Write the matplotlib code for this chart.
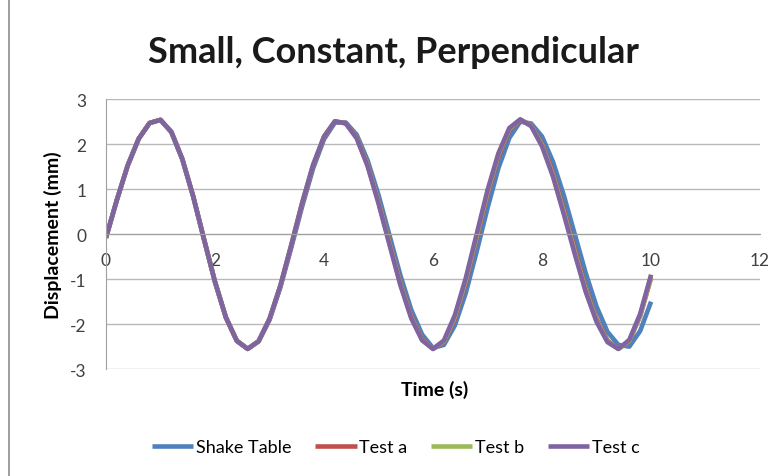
import matplotlib
matplotlib.use("Agg")
import matplotlib.pyplot as plt
from matplotlib.lines import Line2D

# time samples (s)
time_s = [round(0.2 * i, 1) for i in range(51)]

# displacement (mm) for each record
shake_table = [-0.08, 0.76, 1.53, 2.12, 2.47, 2.54, 2.27, 1.67, 0.84, -0.12,
               -1.06, -1.85, -2.37, -2.55, -2.38, -1.91, -1.18, -0.30, 0.62, 1.46,
               2.11, 2.48, 2.48, 2.21, 1.64, 0.87, -0.02, -0.91, -1.68, -2.23,
               -2.53, -2.46, -2.03, -1.31, -0.39, 0.58, 1.47, 2.14, 2.50, 2.46,
               2.17, 1.61, 0.86, 0.00, -0.86, -1.61, -2.17, -2.46, -2.50, -2.15,
               -1.50]
test_a = [-0.08, 0.76, 1.53, 2.12, 2.47, 2.54, 2.27, 1.67, 0.84, -0.12,
          -1.06, -1.85, -2.37, -2.55, -2.38, -1.89, -1.15, -0.25, 0.68, 1.52,
          2.15, 2.50, 2.47, 2.15, 1.55, 0.73, -0.17, -1.07, -1.82, -2.33,
          -2.55, -2.40, -1.88, -1.08, -0.10, 0.88, 1.72, 2.31, 2.54, 2.42,
          2.01, 1.37, 0.55, -0.32, -1.18, -1.88, -2.36, -2.55, -2.38, -1.82,
          -0.97]
test_b = [-0.08, 0.76, 1.53, 2.12, 2.47, 2.54, 2.27, 1.67, 0.84, -0.12,
          -1.06, -1.85, -2.37, -2.55, -2.38, -1.88, -1.14, -0.24, 0.70, 1.54,
          2.17, 2.51, 2.46, 2.14, 1.53, 0.71, -0.20, -1.10, -1.85, -2.35,
          -2.55, -2.38, -1.84, -1.03, -0.05, 0.93, 1.77, 2.34, 2.55, 2.41,
          1.98, 1.32, 0.49, -0.39, -1.24, -1.92, -2.38, -2.55, -2.37, -1.80,
          -0.95]
test_c = [-0.08, 0.76, 1.53, 2.12, 2.47, 2.54, 2.27, 1.67, 0.84, -0.12,
          -1.06, -1.85, -2.37, -2.55, -2.38, -1.88, -1.14, -0.24, 0.70, 1.54,
          2.17, 2.51, 2.46, 2.13, 1.51, 0.68, -0.23, -1.13, -1.87, -2.36,
          -2.55, -2.36, -1.80, -0.98, 0.00, 0.98, 1.80, 2.36, 2.55, 2.40,
          1.95, 1.28, 0.44, -0.44, -1.28, -1.95, -2.40, -2.55, -2.35, -1.77,
          -0.90]

series_names = ["Shake Table", "Test a", "Test b", "Test c"]
series_colors = ["#4F81BD", "#C0504D", "#9BBB59", "#8064A2"]

plt.rcParams['font.family'] = ['Lato', 'DejaVu Sans']
plt.rcParams['axes.unicode_minus'] = False

fig = plt.figure(figsize=(7.82, 4.77), dpi=100)
ax = fig.add_axes([0.1355, 0.224, 0.8365, 0.566])

for vals, name, col in zip([shake_table, test_a, test_b, test_c], series_names, series_colors):
    ax.plot(time_s, vals, color=col, lw=3.3, label=name,
            solid_joinstyle='round', solid_capstyle='butt')

ax.set_xlim(0, 12)
ax.set_ylim(-3, 3)
ax.set_xticks(range(0, 13, 2))
ax.set_yticks(range(-3, 4))

# horizontal gridlines, axis crossing at y = 0
ax.grid(axis='y', color='#B8B8B8', lw=1)
ax.set_axisbelow(True)
ax.spines['top'].set_visible(False)
ax.spines['right'].set_visible(False)
ax.spines['bottom'].set_position(('data', 0))
ax.spines['bottom'].set_color('#A0A0A0')
ax.spines['left'].set_color('#A0A0A0')
ax.tick_params(axis='both', length=0, labelsize=12.5, labelcolor='#404040')
ax.tick_params(axis='x', pad=13)
ax.tick_params(axis='y', pad=14)

fig.text(393 / 782, 1 - 63 / 477, "Small, Constant, Perpendicular", fontsize=26,
         fontweight='bold', ha='center', va='baseline', color='#1a1a1a')
ax.set_ylabel("Displacement (mm)", fontsize=14, fontweight='bold', labelpad=6)
fig.text(0.556, 0.182, "Time (s)", fontsize=14, fontweight='bold', ha='center', va='center')

ax.legend(loc='center', bbox_to_anchor=(0.443, -0.289), ncol=4, frameon=False,
          fontsize=13, handlelength=2.3, handletextpad=0.15, columnspacing=1.3)

# left edge of the chart frame
fig.add_artist(Line2D([0.011, 0.011], [0, 1], transform=fig.transFigure,
                      color='#8C8C8C', lw=1.2))

fig.savefig("out.png", dpi=100)
